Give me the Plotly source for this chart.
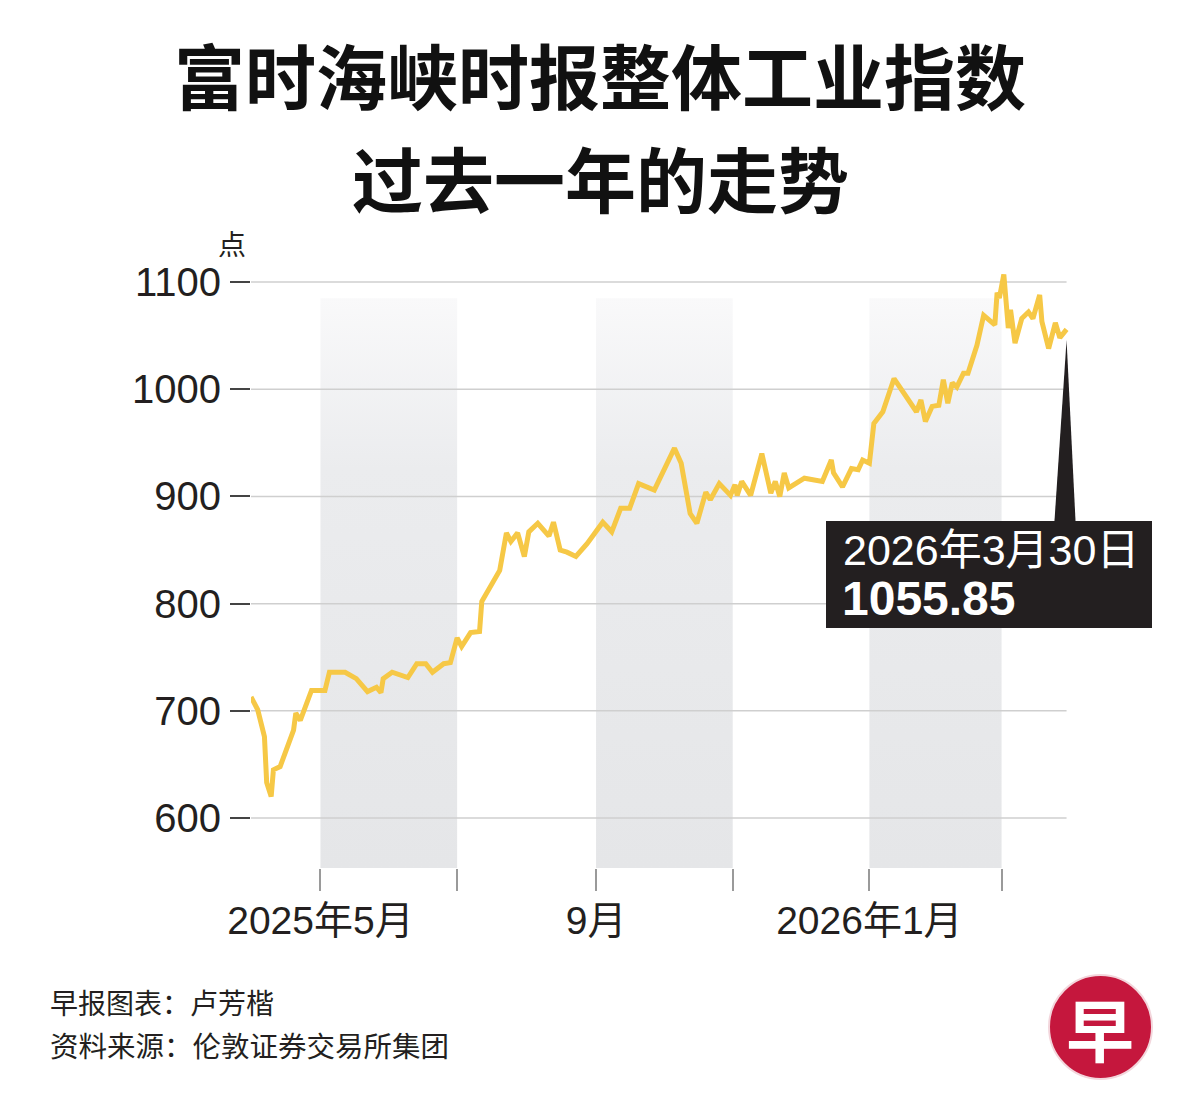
import plotly.graph_objects as go
import pandas as pd

# ---------------- data ----------------
dates = ["2025-03-31","2025-04-03","2025-04-06","2025-04-07","2025-04-09","2025-04-10","2025-04-13",
         "2025-04-19","2025-04-20","2025-04-22","2025-04-27","2025-05-03","2025-05-05","2025-05-12",
         "2025-05-17","2025-05-22","2025-05-26","2025-05-28","2025-05-29","2025-06-02","2025-06-09",
         "2025-06-13","2025-06-17","2025-06-20","2025-06-25","2025-06-28","2025-07-01","2025-07-03",
         "2025-07-07","2025-07-11","2025-07-12","2025-07-20","2025-07-23","2025-07-25","2025-07-28",
         "2025-07-31","2025-08-02","2025-08-06","2025-08-11","2025-08-13","2025-08-16","2025-08-19",
         "2025-08-23","2025-08-28","2025-09-04","2025-09-08","2025-09-12","2025-09-16","2025-09-20",
         "2025-09-27","2025-10-06","2025-10-09","2025-10-13","2025-10-16","2025-10-20","2025-10-22",
         "2025-10-26","2025-10-31","2025-11-02","2025-11-03","2025-11-05","2025-11-09","2025-11-14",
         "2025-11-18","2025-11-20","2025-11-22","2025-11-24","2025-11-26","2025-12-03","2025-12-11",
         "2025-12-15","2025-12-16","2025-12-20","2025-12-24","2025-12-27","2025-12-29","2026-01-01",
         "2026-01-03","2026-01-07","2026-01-12","2026-01-22","2026-01-24","2026-01-26","2026-01-29",
         "2026-02-01","2026-02-03","2026-02-05","2026-02-07","2026-02-09","2026-02-12","2026-02-14",
         "2026-02-18","2026-02-21","2026-02-26","2026-02-27","2026-02-28","2026-03-02","2026-03-04",
         "2026-03-05","2026-03-07","2026-03-10","2026-03-13","2026-03-15","2026-03-18","2026-03-19",
         "2026-03-22","2026-03-25","2026-03-27","2026-03-30"]

values = [713, 701, 676, 633, 620, 645, 648, 682, 698, 691, 719, 719, 736, 736, 730, 718, 722, 717,
          730, 736, 731, 744, 744, 736, 744, 745, 768, 760, 773, 774, 802, 831, 866, 858, 866, 844,
          867, 875, 863, 876, 850, 848, 844, 856, 876, 867, 889, 889, 912, 906, 945, 931, 884, 875,
          904, 897, 912, 901, 911, 901, 914, 901, 940, 903, 914, 900, 922, 908, 917, 914, 934, 922,
          909, 926, 925, 934, 931, 968, 979, 1010, 979, 990, 970, 984, 985, 1009, 987, 1006, 1002,
          1015, 1015, 1041, 1069, 1060, 1090, 1085, 1107, 1057, 1074, 1043, 1066, 1072, 1066, 1088,
          1063, 1038, 1062, 1048, 1055.85]

y_ticks = [600, 700, 800, 900, 1000, 1100]
x_tickvals = ["2025-05-01", "2025-07-01", "2025-09-01", "2025-11-01", "2026-01-01", "2026-03-01"]
x_ticktext = ["2025年5月", "", "9月", "", "2026年1月", ""]
bands = [("2025-05-01", "2025-07-01"), ("2025-09-01", "2025-11-01"), ("2026-01-01", "2026-03-01")]

last_label_date = "2026年3月30日"
last_label_value = "1055.85"

title_line1 = "富时海峡时报整体工业指数"
title_line2 = "过去一年的走势"
unit_label = "点"
footer1 = "早报图表：卢芳楷"
footer2 = "资料来源：伦敦证券交易所集团"

# ---------------- layout geometry ----------------
FIG_W, FIG_H = 1200, 1120
OFF = 8                        # page body margin of the html page
L, R, T, B = 251 - OFF, 1080 - OFF, 262 - OFF, 868 - OFF
PW, PH = R - L, B - T
Y_MIN, Y_MAX = 553.4, 1118.7
BAND_TOP = 1085
X_RANGE = ["2025-03-31", "2026-04-05"]


def px_x(x):
    """target page pixel x -> paper coordinate"""
    return (x - OFF - L) / PW


def px_y(y):
    """target page pixel y -> paper coordinate"""
    return (B - (y - OFF)) / PH


LATIN = "Liberation Sans, Arial, Noto Sans CJK SC"
CJK = "Noto Sans CJK SC"
TEXT_COL = "#231f20"

fig = go.Figure()

# shaded bands with a soft vertical gradient
for s, e in bands:
    fig.add_trace(go.Scatter(
        x=[s, e, e, s, s], y=[Y_MIN, Y_MIN, BAND_TOP, BAND_TOP, Y_MIN],
        mode="lines", line=dict(width=0), fill="toself",
        fillgradient=dict(type="vertical",
                          colorscale=[[0, "#e5e6e8"], [0.7, "#ebecee"], [1, "#f9f9fa"]]),
        hoverinfo="skip", showlegend=False))

# horizontal gridlines (drawn above the bands)
for v in y_ticks:
    fig.add_trace(go.Scatter(
        x=[dates[0], dates[-1]], y=[v, v], mode="lines",
        line=dict(color="#cfcfcf", width=1.5), hoverinfo="skip", showlegend=False))

# main series
fig.add_trace(go.Scatter(
    x=dates, y=values, mode="lines",
    line=dict(color="#f6c846", width=5), showlegend=False))

# callout wedge pointing to the last point
last_d = pd.Timestamp(dates[-1])
box_top_val = 877
fig.add_trace(go.Scatter(
    x=[last_d - pd.Timedelta(days=5.4), last_d, last_d + pd.Timedelta(days=4)],
    y=[box_top_val, values[-1] - 10, box_top_val],
    mode="lines", fill="toself", fillcolor=TEXT_COL, line=dict(width=0, color=TEXT_COL),
    hoverinfo="skip", showlegend=False))

annotations = [
    dict(text=f"<b>{title_line1}</b>", x=px_x(600), xref="paper", y=px_y(73), yref="paper",
         xanchor="center", yanchor="middle", showarrow=False,
         font=dict(family=CJK, size=71, color="#111111")),
    dict(text=f"<b>{title_line2}</b>", x=px_x(600), xref="paper", y=px_y(176), yref="paper",
         xanchor="center", yanchor="middle", showarrow=False,
         font=dict(family=CJK, size=71, color="#111111")),
    dict(text=unit_label, x=px_x(232), xref="paper", y=px_y(243), yref="paper",
         xanchor="center", yanchor="middle", showarrow=False,
         font=dict(family=CJK, size=28, color=TEXT_COL)),
    dict(text=footer1, x=px_x(48), xref="paper", y=px_y(1002), yref="paper",
         xanchor="left", yanchor="middle", showarrow=False,
         font=dict(family=CJK, size=28, color=TEXT_COL)),
    dict(text=footer2, x=px_x(48), xref="paper", y=px_y(1044), yref="paper",
         xanchor="left", yanchor="middle", showarrow=False,
         font=dict(family=CJK, size=28.5, color=TEXT_COL)),
    dict(text="<b>早</b>", x=px_x(1100), xref="paper", y=px_y(1027), yref="paper",
         xanchor="center", yanchor="middle", showarrow=False,
         font=dict(family=CJK, size=68, color="white")),
    dict(text=last_label_date, x=px_x(841), xref="paper", y=px_y(550), yref="paper",
         xanchor="left", yanchor="middle", showarrow=False,
         font=dict(family=LATIN, size=43, color="white")),
    dict(text=f"<b>{last_label_value}</b>", x=px_x(840), xref="paper", y=px_y(598), yref="paper",
         xanchor="left", yanchor="middle", showarrow=False,
         font=dict(family=LATIN, size=48, color="white")),
]

shapes = [
    # callout box
    dict(type="rect", xref="paper", yref="paper",
         x0=px_x(826), x1=px_x(1152), y0=px_y(628), y1=px_y(521),
         fillcolor=TEXT_COL, line=dict(width=0), layer="above"),
    # logo disc
    dict(type="circle", xref="paper", yref="paper",
         x0=px_x(1049), x1=px_x(1152), y0=px_y(1079), y1=px_y(975),
         fillcolor="#c5173d", line=dict(color="#f3d6dc", width=2), layer="above"),
]

fig.update_layout(
    width=FIG_W, height=FIG_H,
    margin=dict(l=L, r=FIG_W - R, t=T, b=FIG_H - B),
    paper_bgcolor="white", plot_bgcolor="white",
    showlegend=False,
    annotations=annotations,
    shapes=shapes,
    xaxis=dict(type="date", range=X_RANGE, tickvals=x_tickvals, ticktext=x_ticktext,
               ticks="outside", ticklen=22, tickwidth=1.5, tickcolor="#9a9a9a",
               showgrid=False, showline=False, zeroline=False, ticklabelstandoff=-4,
               tickfont=dict(family=LATIN, size=39, color=TEXT_COL)),
    yaxis=dict(range=[Y_MIN, Y_MAX], tickvals=y_ticks, ticks="outside", ticklen=20,
               tickwidth=2, tickcolor="#444444", showgrid=False, showline=False,
               zeroline=False, ticklabelstandoff=1,
               tickfont=dict(family=LATIN, size=40, color=TEXT_COL)),
)

fig.write_html("out.html")
